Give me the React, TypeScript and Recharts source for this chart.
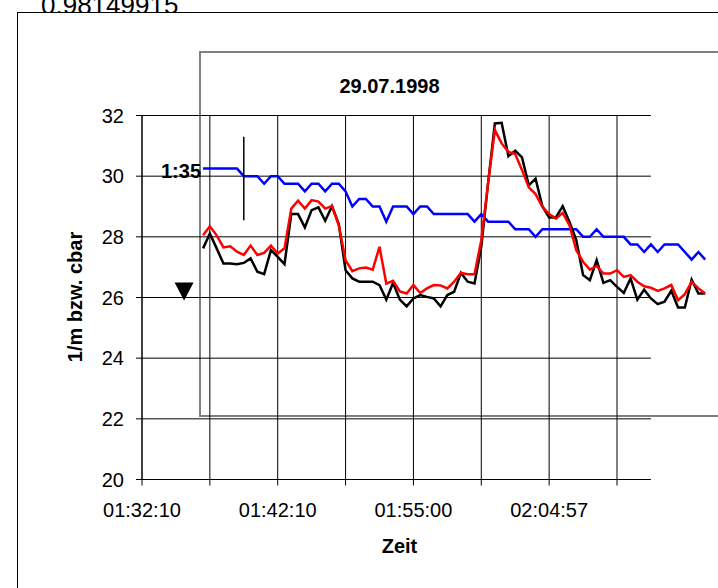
import React from 'react';
import {
  LineChart,
  Line,
  XAxis,
  YAxis,
  ReferenceLine,
  ReferenceDot,
} from 'recharts';

const FONT = "'Liberation Sans', Arial, Helvetica, sans-serif";

// category axis: a tick every 10 samples, a label every 20
const xTicks = [0, 10, 20, 30, 40, 50, 60, 70];
const xTickLabels = ['01:32:10', '', '01:42:10', '', '01:55:00', '', '02:04:57', ''];
const yTicks = [20, 22, 24, 26, 28, 30, 32];
const lastCategory = 75;

// the measured curves sit in a pasted, shifted copy of the chart
const firstCategory = 9;

const blue = [
  30.25, 30.25, 30.25, 30.25, 30.25, 30.25, 30, 30, 30, 29.75,
  30, 30, 29.75, 29.75, 29.75, 29.5, 29.75, 29.75, 29.5, 29.75,
  29.75, 29.5, 29, 29.25, 29.25, 29, 29, 28.5, 29, 29,
  29, 28.75, 29, 29, 28.75, 28.75, 28.75, 28.75, 28.75, 28.75,
  28.5, 28.75, 28.5, 28.5, 28.5, 28.5, 28.25, 28.25, 28.25, 28,
  28.25, 28.25, 28.25, 28.25, 28.25, 28.25, 28, 28, 28.25, 28,
  28, 28, 28, 27.75, 27.75, 27.5, 27.75, 27.5, 27.75, 27.75,
  27.75, 27.5, 27.25, 27.5, 27.25,
];

const red = [
  28.05, 28.35, 28.05, 27.65, 27.69, 27.51, 27.4, 27.71, 27.4, 27.47,
  27.71, 27.45, 27.62, 28.93, 29.19, 28.93, 29.21, 29.16, 28.93, 29.01,
  28.38, 27.23, 26.87, 26.96, 26.99, 26.92, 27.67, 26.46, 26.55, 26.2,
  26.13, 26.41, 26.15, 26.3, 26.41, 26.4, 26.3, 26.52, 26.81, 26.77,
  26.77, 27.89, 29.76, 31.52, 31.08, 30.8, 30.73, 30.2, 29.63, 29.41,
  28.99, 28.75, 28.6, 28.79, 28.38, 27.56, 27.18, 26.92, 27.04, 26.79,
  26.79, 26.9, 26.68, 26.74, 26.52, 26.37, 26.32, 26.22, 26.3, 26.41,
  25.91, 26.11, 26.52, 26.3, 26.13,
];

const black = [
  27.62, 28.11, 27.62, 27.12, 27.12, 27.1, 27.14, 27.29, 26.85, 26.77,
  27.56, 27.34, 27.1, 28.75, 28.75, 28.31, 28.88, 28.97, 28.53, 29.01,
  28.42, 26.9, 26.63, 26.52, 26.52, 26.52, 26.41, 25.93, 26.48, 25.93,
  25.71, 25.97, 26.08, 26.02, 25.97, 25.71, 26.08, 26.19, 26.81, 26.52,
  26.46, 27.67, 29.76, 31.74, 31.76, 30.66, 30.84, 30.62, 29.7, 29.92,
  29.01, 28.64, 28.64, 29.01, 28.49, 27.89, 26.74, 26.57, 27.23, 26.48,
  26.57, 26.35, 26.15, 26.63, 25.93, 26.26, 25.97, 25.78, 25.86, 26.22,
  25.67, 25.67, 26.59, 26.13, 26.13,
];

const data = blue.map((b, i) => ({
  t: i + firstCategory,
  blue: b,
  red: red[i],
  black: black[i],
}));

// annotations in data units
const marker = { x: 15, y1: 28.55, y2: 31.3 };
const triangle = { x: 6.2, y: 26.2 };

const tickStyle = { fill: '#000', fontSize: 20, fontFamily: FONT };

const App: React.FC = () => {
  return (
    <div
      style={{
        position: 'absolute',
        left: 0,
        top: 0,
        width: 718,
        height: 588,
        overflow: 'hidden',
        background: '#fff',
        fontFamily: FONT,
      }}
    >
      <svg width={718} height={588} style={{ position: 'absolute', left: 0, top: 0 }}>
        <text x={41} y={14} fontSize={26} fontFamily={FONT} fill="#000">
          0,98149915
        </text>
      </svg>
      <div
        style={{
          position: 'absolute',
          left: 17,
          top: 12,
          width: 800,
          height: 700,
          borderTop: '1px solid #000',
          borderLeft: '1px solid #000',
          background: '#fff',
        }}
      />
      {/* frame of the pasted overlay chart: top, left and bottom edges */}
      <div style={{ position: 'absolute', left: 199, top: 51, width: 519, height: 2, background: '#808080' }} />
      <div style={{ position: 'absolute', left: 199, top: 51, width: 2, height: 366, background: '#808080' }} />
      <div style={{ position: 'absolute', left: 199, top: 415, width: 519, height: 2, background: '#808080' }} />
      <div style={{ position: 'absolute', left: 0, top: 0 }}>
        <LineChart
          width={718}
          height={588}
          data={data}
          margin={{ top: 115.5, right: 6, bottom: 48.5, left: 0 }}
        >
          {xTicks.map((v) => (
            <ReferenceLine
              key={`v${v}`}
              segment={[{ x: v, y: 20 }, { x: v, y: 32 }]}
              stroke="#000"
            />
          ))}
          {yTicks.map((v) => (
            <ReferenceLine
              key={`h${v}`}
              segment={[{ x: 0, y: v }, { x: lastCategory, y: v }]}
              stroke="#000"
            />
          ))}
          <XAxis
            type="number"
            dataKey="t"
            domain={[0, 84]}
            ticks={xTicks}
            interval={0}
            axisLine={false}
            tickLine={{ stroke: '#000' }}
            tickSize={6}
            tickMargin={17}
            tick={tickStyle}
            tickFormatter={(v: number) => xTickLabels[xTicks.indexOf(v)] ?? ''}
            height={60}
          />
          <YAxis
            type="number"
            domain={[20, 32]}
            ticks={yTicks}
            interval={0}
            width={142}
            axisLine={{ stroke: '#000' }}
            tickLine={{ stroke: '#000' }}
            tickSize={6}
            tickMargin={12}
            tick={tickStyle}
          />
          <Line
            type="linear"
            dataKey="blue"
            stroke="#0000ff"
            strokeWidth={2.5}
            dot={false}
            isAnimationActive={false}
          />
          <Line
            type="linear"
            dataKey="black"
            stroke="#000000"
            strokeWidth={2.5}
            dot={false}
            isAnimationActive={false}
          />
          <Line
            type="linear"
            dataKey="red"
            stroke="#ff0000"
            strokeWidth={2.5}
            dot={false}
            isAnimationActive={false}
          />
          <ReferenceLine
            segment={[{ x: marker.x, y: marker.y1 }, { x: marker.x, y: marker.y2 }]}
            stroke="#000"
            strokeWidth={1.5}
          />
          <ReferenceDot
            x={triangle.x}
            y={triangle.y}
            r={9}
            shape={(p: any) => (
              <polygon
                points={`${p.cx - 9.5},${p.cy - 9} ${p.cx + 9.5},${p.cy - 9} ${p.cx},${p.cy + 9}`}
                fill="#000"
              />
            )}
          />
        </LineChart>
      </div>
      <svg
        width={718}
        height={588}
        style={{ position: 'absolute', left: 0, top: 0, pointerEvents: 'none' }}
      >
        <text x={389.5} y={93} textAnchor="middle" fontSize={20} fontWeight="bold" fontFamily={FONT}>
          29.07.1998
        </text>
        <text x={201} y={178} textAnchor="end" fontSize={20} fontWeight="bold" fontFamily={FONT}>
          1:35
        </text>
        <text
          transform="rotate(-90)"
          x={-297}
          y={82}
          textAnchor="middle"
          fontSize={20}
          fontWeight="bold"
          fontFamily={FONT}
        >
          1/m bzw. cbar
        </text>
        <text x={399.5} y={553} textAnchor="middle" fontSize={20} fontWeight="bold" fontFamily={FONT}>
          Zeit
        </text>
      </svg>
    </div>
  );
};

export default App;
